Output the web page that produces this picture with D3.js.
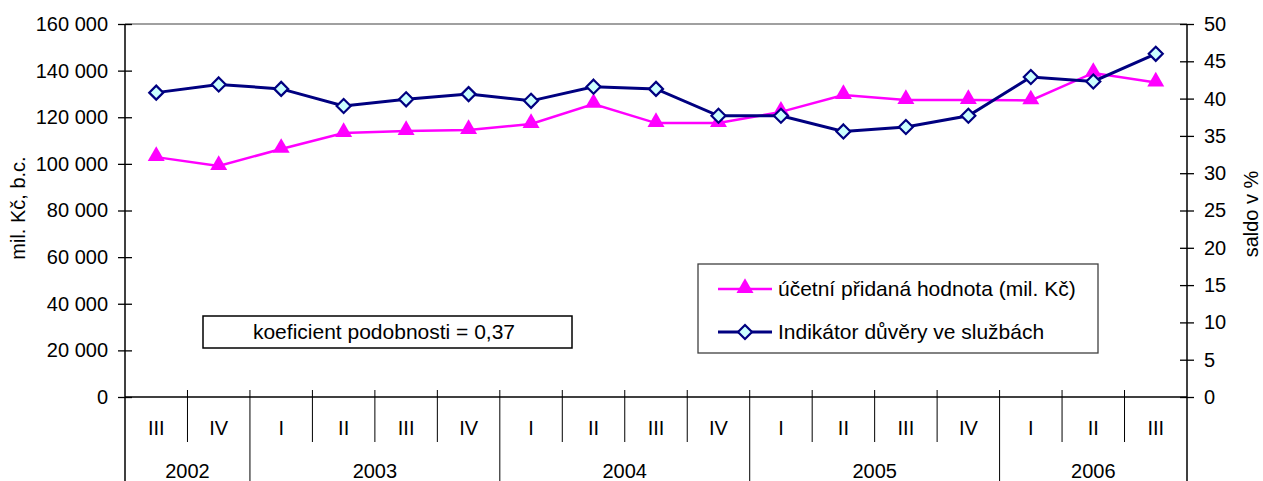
<!DOCTYPE html>
<html>
<head>
<meta charset="utf-8">
<script src="https://cdn.jsdelivr.net/npm/d3@7/dist/d3.min.js"></script>
<style>
  body { margin: 0; background: #fff; }
  svg text { font-family: "Liberation Sans", Arial, sans-serif; fill: #000; }
</style>
</head>
<body>
<svg id="chart" width="1263" height="481"></svg>
<script>
// quarters and years of the x axis
var quarters = ["III","IV","I","II","III","IV","I","II","III","IV","I","II","III","IV","I","II","III"]
var years = ["2002","2002","2003","2003","2003","2003","2004","2004","2004","2004",
             "2005","2005","2005","2005","2006","2006","2006"]

// účetní přidaná hodnota, mil. Kč (left axis)
var addedValue = [102900, 99100, 106400, 113200, 114100, 114500, 117100, 125700, 117500,
                  117500, 122300, 129500, 127400, 127400, 127200, 139000, 134900]
// indikátor důvěry ve službách, saldo v % (right axis)
var confidence = [40.8, 41.9, 41.3, 39.0, 39.9, 40.6, 39.7, 41.6, 41.3,
                  37.7, 37.7, 35.6, 36.2, 37.7, 42.9, 42.3, 46.0]

var leftTicks = [0, 20000, 40000, 60000, 80000, 100000, 120000, 140000, 160000]
var rightTicks = [0, 5, 10, 15, 20, 25, 30, 35, 40, 45, 50]

var seriesNames = ["účetní přidaná hodnota (mil. Kč)", "Indikátor důvěry ve službách"]
var leftTitle = "mil. Kč, b.c."
var rightTitle = "saldo v %"
var noteText = "koeficient podobnosti = 0,37"

var plot = {left:125, right:1187, top:24, bottom:397}
var pink = "#ff00ff", navy = "#000080"

var svg = d3.select("#chart")

var xScale = d3.scaleBand()
    .domain(d3.range(quarters.length))
    .range([plot.left, plot.right])
var yLeft = d3.scaleLinear().domain([0, 160000]).range([plot.bottom, plot.top])
var yRight = d3.scaleLinear().domain([0, 50]).range([plot.bottom, plot.top])

var cz = d3.formatLocale({decimal:",", thousands:" ", grouping:[3], currency:["",""]})

var drawAxes = function() {
    // gray plot border on top
    svg.append("line")
        .attr("x1", plot.left).attr("x2", plot.right)
        .attr("y1", plot.top).attr("y2", plot.top)
        .attr("stroke", "#808080").attr("stroke-width", 1.5)

    var leftAxis = d3.axisLeft(yLeft).tickValues(leftTicks)
        .tickFormat(cz.format(",")).tickSize(7).tickPadding(10)
    var gl = svg.append("g").attr("transform", "translate(" + plot.left + ",0)").call(leftAxis)
    var rightAxis = d3.axisRight(yRight).tickValues(rightTicks).tickSize(7).tickPadding(10)
    var gr = svg.append("g").attr("transform", "translate(" + plot.right + ",0)").call(rightAxis)

    ;[gl, gr].forEach(function(g) {
        g.select(".domain").remove()
        g.selectAll(".tick line").attr("x1", -7).attr("x2", 7).attr("stroke", "#000").attr("stroke-width", 1.3)
        g.selectAll(".tick text").style("font-size", "20px").attr("fill", "#000")
    })

    // axis lines reaching down through the category area
    svg.append("line")
        .attr("x1", plot.left).attr("x2", plot.left)
        .attr("y1", plot.top).attr("y2", 481)
        .attr("stroke", "#000").attr("stroke-width", 1.5)
    svg.append("line")
        .attr("x1", plot.right).attr("x2", plot.right)
        .attr("y1", plot.top).attr("y2", 481)
        .attr("stroke", "#000").attr("stroke-width", 1.5)
    svg.append("line")
        .attr("x1", plot.left).attr("x2", plot.right)
        .attr("y1", plot.bottom).attr("y2", plot.bottom)
        .attr("stroke", "#000").attr("stroke-width", 1.5)

    // quarter separators and labels
    var bw = xScale.bandwidth()
    svg.selectAll("qSep")
        .data(d3.range(1, quarters.length))
        .enter().append("line")
        .attr("x1", function(i){ return xScale(i) }).attr("x2", function(i){ return xScale(i) })
        .attr("y1", plot.bottom - 7)
        .attr("y2", function(i){ return years[i] != years[i-1] ? 481 : 442 })
        .attr("stroke", "#000").attr("stroke-width", 1)

    svg.selectAll("qLabel")
        .data(quarters)
        .enter().append("text")
        .attr("x", function(d, i){ return xScale(i) + bw / 2 })
        .attr("y", 435)
        .attr("text-anchor", "middle")
        .style("font-size", "20px")
        .text(function(d){ return d })

    var groups = d3.groups(d3.range(years.length), function(i){ return years[i] })
    svg.selectAll("yLabel")
        .data(groups)
        .enter().append("text")
        .attr("x", function(g){ return (xScale(g[1][0]) + xScale(g[1][g[1].length - 1]) + bw) / 2 })
        .attr("y", 478)
        .attr("text-anchor", "middle")
        .style("font-size", "20px")
        .text(function(g){ return g[0] })

    svg.append("text")
        .attr("transform", "translate(25,208) rotate(-90)")
        .attr("text-anchor", "middle")
        .style("font-size", "20px")
        .text(leftTitle)
    svg.append("text")
        .attr("transform", "translate(1258,214) rotate(-90)")
        .attr("text-anchor", "middle")
        .style("font-size", "20px")
        .text(rightTitle)
}

var tri = d3.symbol().type(d3.symbolTriangle).size(125)
var dia = function(s) { return "M0," + (-s) + "L" + s + ",0L0," + s + "L" + (-s) + ",0Z" }

var drawSeries = function() {
    var cx = function(i) { return xScale(i) + xScale.bandwidth() / 2 }

    var lineL = d3.line().x(function(d, i){ return cx(i) }).y(function(d){ return yLeft(d) })
    var lineR = d3.line().x(function(d, i){ return cx(i) }).y(function(d){ return yRight(d) })

    svg.append("path").attr("d", lineL(addedValue))
        .attr("fill", "none").attr("stroke", pink).attr("stroke-width", 2.5)
    svg.selectAll("triPts")
        .data(addedValue)
        .enter().append("path")
        .attr("d", tri)
        .attr("transform", function(d, i){ return "translate(" + cx(i) + "," + (yLeft(d) - 1) + ")" })
        .attr("fill", pink)

    svg.append("path").attr("d", lineR(confidence))
        .attr("fill", "none").attr("stroke", navy).attr("stroke-width", 3)
    svg.selectAll("diaPts")
        .data(confidence)
        .enter().append("path")
        .attr("d", dia(7))
        .attr("transform", function(d, i){ return "translate(" + cx(i) + "," + yRight(d) + ")" })
        .attr("fill", "#ccffff").attr("stroke", navy).attr("stroke-width", 2.2)
}

var drawLegend = function() {
    var lg = svg.append("g").attr("transform", "translate(698,264)")
    lg.append("rect").attr("width", 400).attr("height", 89)
        .attr("fill", "#fff").attr("stroke", "#404040").attr("stroke-width", 1.3)

    var rows = [{name: seriesNames[0], color: pink, y: 25},
                {name: seriesNames[1], color: navy, y: 68}]
    rows.forEach(function(r, k) {
        lg.append("line").attr("x1", 20).attr("x2", 74).attr("y1", r.y).attr("y2", r.y)
            .attr("stroke", r.color).attr("stroke-width", k == 0 ? 2.5 : 3)
        if (k == 0) {
            lg.append("path").attr("d", tri).attr("transform", "translate(47," + (r.y - 1) + ")").attr("fill", pink)
        } else {
            lg.append("path").attr("d", dia(7)).attr("transform", "translate(47," + r.y + ")")
                .attr("fill", "#ccffff").attr("stroke", navy).attr("stroke-width", 2.2)
        }
        lg.append("text").attr("x", 80).attr("y", r.y + 7)
            .style("font-size", "21px").text(r.name)
    })

    var nb = svg.append("g").attr("transform", "translate(203,316)")
    nb.append("rect").attr("width", 369).attr("height", 32)
        .attr("fill", "#fff").attr("stroke", "#000").attr("stroke-width", 1.5)
    nb.append("text").attr("x", 181).attr("y", 23).attr("text-anchor", "middle")
        .style("font-size", "21px").text(noteText)
}

drawAxes()
drawSeries()
drawLegend()
</script>
</body>
</html>
